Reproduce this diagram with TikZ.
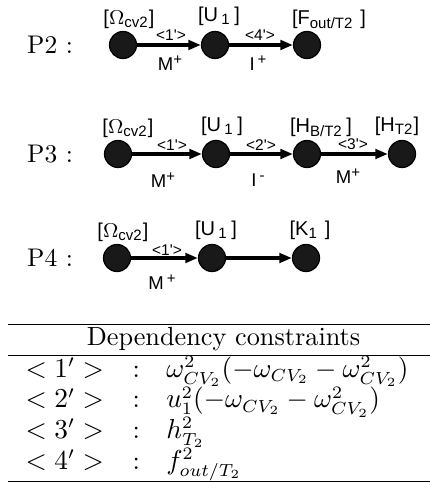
\documentclass[tikz,border=0pt]{standalone}
\usepackage{fontspec}
\newfontfamily\lblfont{Liberation Sans}
\usetikzlibrary{arrows.meta}
\newcommand\supx[1]{\raisebox{0.55ex}{\fontsize{6}{7}\selectfont #1}}
\begin{document}
\begin{tikzpicture}[x=0.4pt,y=-0.4pt,
  dot/.style={circle,inner sep=0pt,minimum size=10.8pt,fill=black!90,draw=black,line width=0.5pt},
  arr/.style={line width=1.25pt,-{Triangle[length=5pt,width=3.8pt]}},
  vlab/.style={font=\fontsize{8}{9.5}\lblfont,inner sep=0pt},
  elab/.style={font=\fontsize{6.2}{7.5}\lblfont,inner sep=0pt},
  slab/.style={font=\fontsize{7.4}{8.5}\lblfont,inner sep=0pt},
  plab/.style={font=\fontsize{10.2}{12}\selectfont,inner sep=0pt}]
\useasboundingbox (0,0) rectangle (430,490);
% ---------- P2 ----------
\node[plab] (p2) at (50,45) {P2 :};
\node[dot] (a1) at (123,45) {};
\node[dot] (a2) at (215,45) {};
\node[dot] (a3) at (307,45) {};
\draw[arr] (a1) -- (a2);
\draw[arr] (a2) -- (a3);
\node[vlab] (la1) at (129,19) {[\(\Omega\)\textsubscript{cv2}]};
\node[vlab] (la2) at (219,16) {[U\,\textsubscript{1}\,]};
\node[vlab] (la3) at (329,19) {[F\textsubscript{out/T2}\,\,]};
\node[elab] (ea1) at (171,35) {<1'>};
\node[slab] (sa1) at (170,63) {M\supx{+}};
\node[elab] (ea2) at (260,35) {<4'>};
\node[slab] (sa2) at (258,63) {I\,\supx{+}};
% ---------- P3 ----------
\node[plab] (p3) at (50,154) {P3 :};
\node[dot] (b1) at (118,154) {};
\node[dot] (b2) at (216,154) {};
\node[dot] (b3) at (307,154) {};
\node[dot] (b4) at (402,154) {};
\draw[arr] (b1) -- (b2);
\draw[arr] (b2) -- (b3);
\draw[arr] (b3) -- (b4);
\node[vlab] (lb1) at (128,128) {[\(\Omega\)\textsubscript{cv2}]};
\node[vlab] (lb2) at (222,126) {[U\,\textsubscript{1}\,]};
\node[vlab] (lb3) at (321,127) {[H\textsubscript{B/T2}\,]};
\node[vlab] (lb4) at (397,126) {[H\textsubscript{T2}]};
\node[elab] (eb1) at (172,145) {<1'>};
\node[slab] (sb1) at (163,180) {M\supx{+}};
\node[elab] (eb2) at (261,145) {<2'>};
\node[slab] (sb2) at (258,180) {I\,\supx{-}};
\node[elab] (eb3) at (353,144) {<3'>};
\node[slab] (sb3) at (348,176) {M\supx{+}};
% ---------- P4 ----------
\node[plab] (p4) at (50,258) {P4 :};
\node[dot] (c1) at (117,258) {};
\node[dot] (c2) at (212,258) {};
\node[dot] (c3) at (306,258) {};
\draw[arr] (c1) -- (c2);
\draw[arr] (c2) -- (c3);
\node[vlab] (lc1) at (123,232) {[\(\Omega\)\textsubscript{cv2}]};
\node[vlab] (lc2) at (216,230) {[U\,\textsubscript{1}\,]};
\node[vlab] (lc3) at (310,230) {[K\textsubscript{1}\,\,]};
\node[elab] (ec1) at (167,250) {<1'>};
\node[slab] (sc1) at (162,282) {M\,\supx{+}};
% ---------- table ----------
\node[anchor=north west,inner sep=0pt,font=\fontsize{10.5}{12.2}\selectfont] (tbl) at (8,323) {%
\begin{tabular}{@{\hspace{6.8pt}}c@{\hspace{11.5pt}}c@{\hspace{10.5pt}}l@{\hspace{12pt}}}
\hline
\multicolumn{3}{c}{Dependency constraints}\\
\hline
$<1'>$ & : & $\omega^2_{CV_2}(-\omega_{CV_2}-\omega^2_{CV_2})$\\
$<2'>$ & : & $u^2_1(-\omega_{CV_2}-\omega^2_{CV_2})$\\
$<3'>$ & : & $h^2_{T_2}$\\
$<4'>$ & : & $f^2_{out/T_2}$\\
\hline
\end{tabular}};
\end{tikzpicture}
\end{document}
